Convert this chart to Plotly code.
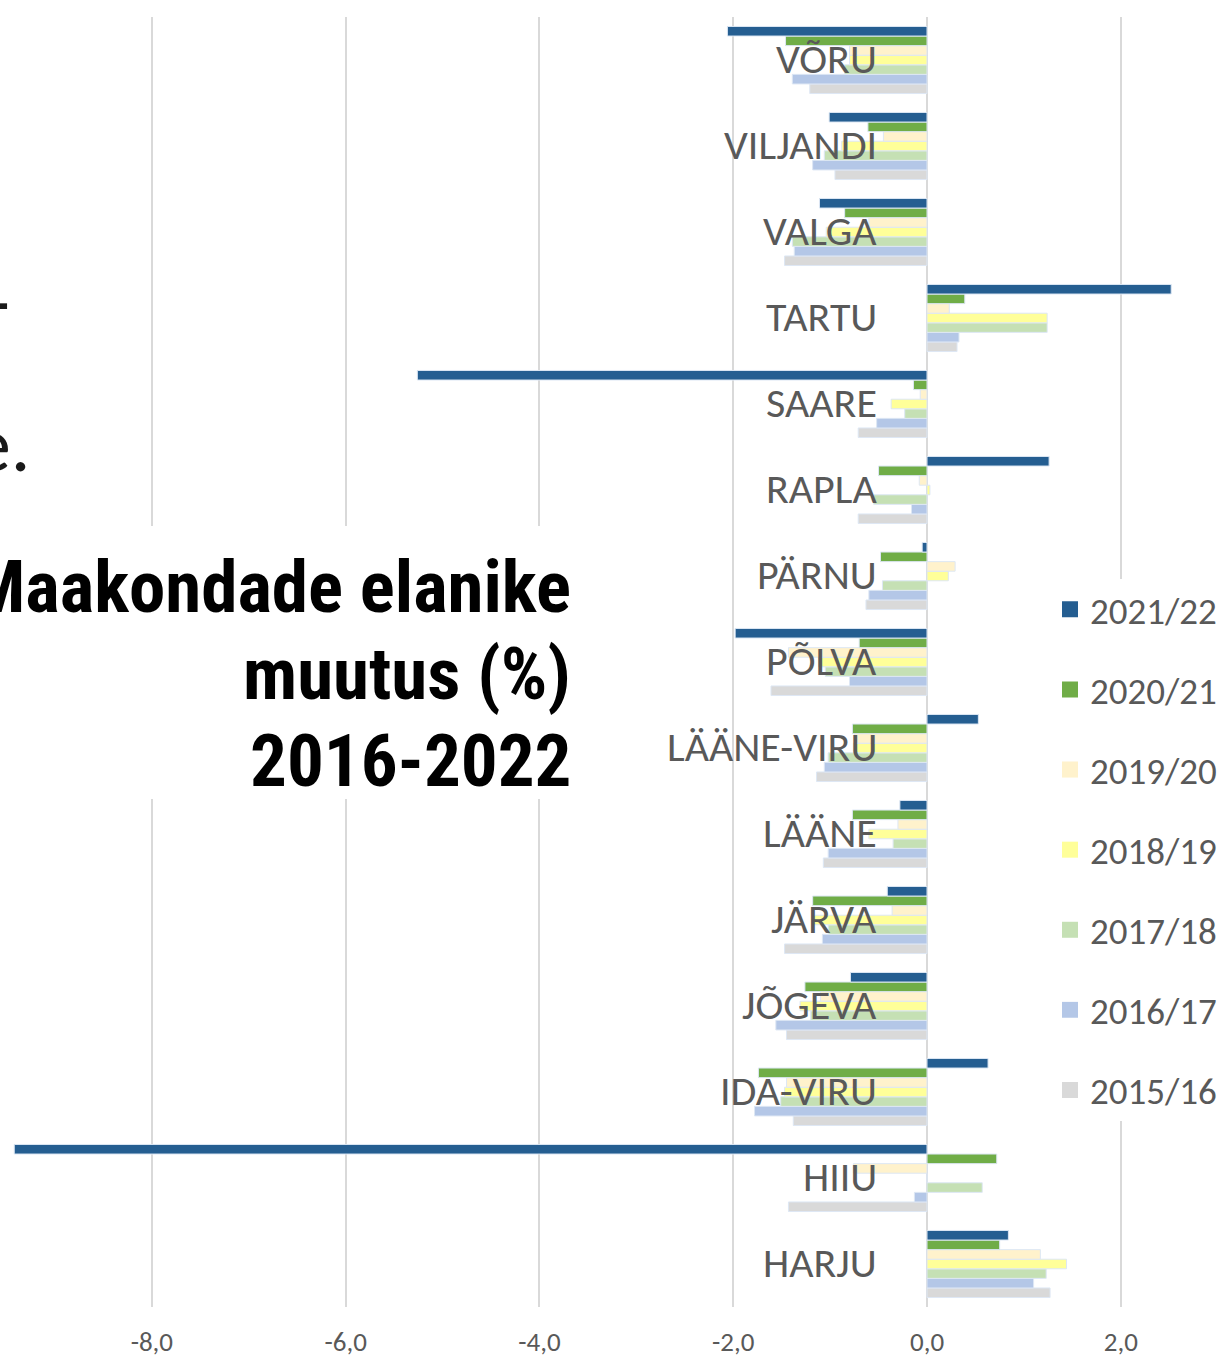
import plotly.graph_objects as go

# ---------------- data ----------------
counties = ["HARJU", "HIIU", "IDA-VIRU", "JÕGEVA", "JÄRVA", "LÄÄNE", "LÄÄNE-VIRU",
            "PÕLVA", "PÄRNU", "RAPLA", "SAARE", "TARTU", "VALGA", "VILJANDI", "VÕRU"]

s_2015_16 = [1.27, -1.43, -1.38, -1.45, -1.47, -1.07, -1.14, -1.61, -0.63, -0.71, -0.71, 0.31, -1.47, -0.95, -1.21]
s_2016_17 = [1.10, -0.13, -1.78, -1.56, -1.08, -1.02, -1.06, -0.80, -0.60, -0.16, -0.52, 0.33, -1.37, -1.18, -1.39]
s_2017_18 = [1.23, 0.57, -1.51, -1.20, -1.02, -0.35, -1.02, -1.05, -0.46, -0.55, -0.23, 1.24, -1.39, -1.06, -0.85]
s_2018_19 = [1.44, 0.00, -1.47, -1.31, -1.17, -0.60, -0.76, -1.12, 0.22, 0.03, -0.37, 1.24, -1.04, -0.88, -0.80]
s_2019_20 = [1.17, -0.76, -1.45, -1.10, -0.36, -0.30, -0.75, -1.43, 0.29, -0.08, -0.07, 0.23, -0.60, -0.45, -0.80]
s_2020_21 = [0.75, 0.72, -1.74, -1.26, -1.18, -0.77, -0.77, -0.70, -0.48, -0.50, -0.14, 0.39, -0.85, -0.61, -1.46]
s_2021_22 = [0.84, -9.42, 0.63, -0.79, -0.41, -0.28, 0.53, -1.98, -0.05, 1.26, -5.26, 2.52, -1.11, -1.01, -2.06]

series_names = ["2015/16", "2016/17", "2017/18", "2018/19", "2019/20", "2020/21", "2021/22"]
series_values = [s_2015_16, s_2016_17, s_2017_18, s_2018_19, s_2019_20, s_2020_21, s_2021_22]

tick_vals = [-8, -6, -4, -2, 0, 2]
tick_text = ["-8,0", "-6,0", "-4,0", "-2,0", "0,0", "2,0"]

title_lines = ["Maakondade elanike", "muutus (%)", "2016-2022"]

# ---------------- style ----------------
colors = {
    "2015/16": "#d9d9d9",
    "2016/17": "#b4c7e7",
    "2017/18": "#c5e0b4",
    "2018/19": "#ffff99",
    "2019/20": "#fff2cc",
    "2020/21": "#70ad47",
    "2021/22": "#255e91",
}

W, H = 1224, 1358
T, B = 17, 46
PLOT_TOP, PLOT_BOT = T, H - B
PH = PLOT_BOT - PLOT_TOP


def py(p):
    return (PLOT_BOT - p) / PH


def px(p):
    return p / W


GRAY = "#595959"
LABEL_FONT = "Calibri, Carlito, Lato, sans-serif"
TITLE_FONT = ("Liberation Sans Narrow, Arial Narrow, Roboto Condensed, Noto Sans Condensed, "
              "Open Sans Condensed, DejaVu Sans Condensed, Liberation Sans, sans-serif")

fig = go.Figure()

for name, vals in zip(series_names, series_values):
    fig.add_trace(go.Bar(
        x=vals, y=counties, orientation="h", name=name,
        marker=dict(color=colors[name], line=dict(color="#dde7f4", width=1)),
        showlegend=False,
    ))

# legend proxies (square markers), newest first
for name in reversed(series_names):
    fig.add_trace(go.Scatter(
        x=[None], y=[None], mode="markers", name=name, legendgroup=name,
        marker=dict(symbol="square", size=21, color=colors[name]),
        showlegend=True,
    ))

annotations = []
for c in counties:
    annotations.append(dict(
        x=0, y=c, xref="x", yref="y", text=c, showarrow=False,
        xanchor="right", yanchor="middle", xshift=-48, yshift=2,
        font=dict(family=LABEL_FONT, size=42, color=GRAY),
    ))

title_y = [589, 677, 764]
for line, yy in zip(title_lines, title_y):
    annotations.append(dict(
        x=px(573), y=py(yy), xref="paper", yref="paper", text="<b>%s</b>" % line,
        showarrow=False, xanchor="right", yanchor="middle",
        font=dict(family=TITLE_FONT, size=73, color="#000000"),
    ))

# fragments of neighbouring slide text, cut at the left edge
annotations.append(dict(
    x=px(33), y=py(446), xref="paper", yref="paper", text="e.", showarrow=False,
    xanchor="right", yanchor="middle",
    font=dict(family=LABEL_FONT, size=78, color="#1a1a1a"),
))
annotations.append(dict(
    x=px(12), y=py(303), xref="paper", yref="paper", text="-", showarrow=False,
    xanchor="right", yanchor="middle",
    font=dict(family=LABEL_FONT, size=78, color="#1a1a1a"),
))

shapes = [dict(
    type="rect", xref="paper", yref="paper",
    x0=-0.01, x1=px(600), y0=py(802), y1=py(528),
    fillcolor="white", line=dict(width=0), layer="above",
)]

fig.update_layout(
    width=W, height=H,
    margin=dict(l=0, r=0, t=T, b=B, pad=0),
    paper_bgcolor="white", plot_bgcolor="white",
    barmode="group", bargap=0.22, bargroupgap=0,
    xaxis=dict(
        range=[-9.567, 3.065], tickvals=tick_vals, ticktext=tick_text,
        showgrid=True, gridcolor="#d9d9d9", gridwidth=2,
        zeroline=True, zerolinecolor="#d9d9d9", zerolinewidth=2,
        showline=False, ticks="", ticklabelstandoff=16,
        tickfont=dict(family=LABEL_FONT, size=27, color=GRAY),
        fixedrange=True,
    ),
    yaxis=dict(
        categoryorder="array", categoryarray=counties, range=[-0.5, 14.5],
        showticklabels=False, showgrid=False, zeroline=False, ticks="",
        fixedrange=True,
    ),
    legend=dict(
        x=px(1050), y=py(581), xanchor="left", yanchor="top",
        xref="paper", yref="paper",
        traceorder="grouped", tracegroupgap=29,
        bgcolor="white", borderwidth=0,
        font=dict(family=LABEL_FONT, size=37, color=GRAY),
        itemsizing="trace",
    ),
    annotations=annotations,
    shapes=shapes,
    showlegend=True,
)

fig.write_html("out.html", config={"displayModeBar": False},
               post_script="document.body.style.margin='0';")
